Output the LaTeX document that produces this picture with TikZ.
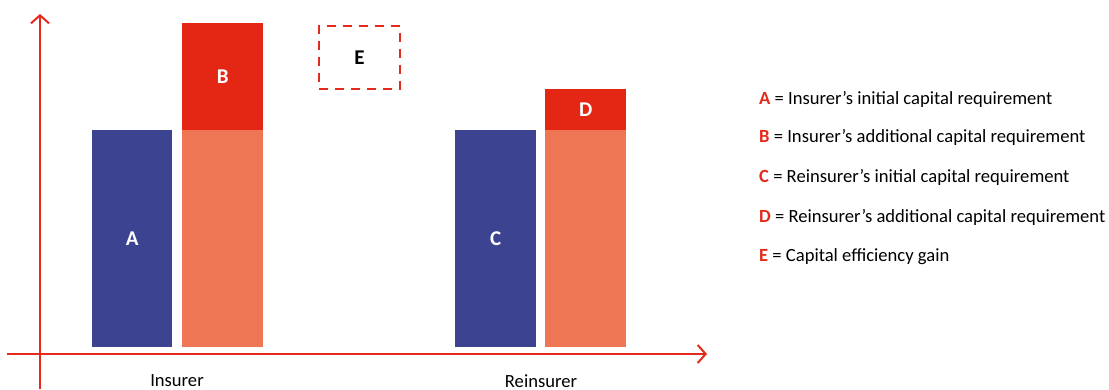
\documentclass[tikz,border=0pt]{standalone}
\usepackage{fontspec}
\setmainfont{Carlito}
\usetikzlibrary{arrows.meta}
\definecolor{navy}{HTML}{3C4492}
\definecolor{salmon}{HTML}{EF7655}
\definecolor{redbar}{HTML}{E42615}
\definecolor{axisred}{HTML}{E52A1C}
\tikzset{
  bar/.style={inner sep=0pt, anchor=north west, text=white, font=\fontsize{21}{24}\selectfont\bfseries},
  axis/.style={draw=axisred, line width=2pt, -{Straight Barb[length=8pt,width=18pt,line width=2pt]}},
  legend/.style={anchor=west, inner sep=0pt, font=\fontsize{18.6}{22}\selectfont},
  cat/.style={inner sep=0pt, font=\fontsize{18.6}{22}\selectfont},
  gainbox/.style={draw=axisred, line width=2pt, dash pattern=on 9pt off 7pt, inner sep=0pt, anchor=north west, font=\fontsize{21}{24}\selectfont\bfseries},
}
\newcommand{\lk}[1]{\textcolor{axisred}{\textbf{#1}}}
\begin{document}
\begin{tikzpicture}[x=1pt,y=-1pt]
\useasboundingbox (0,0) rectangle (1109,390);
% bars
\node[bar, fill=navy, minimum width=80pt, minimum height=217pt] (A) at (92,130) {A};
\node[bar, fill=salmon, minimum width=81pt, minimum height=217pt] (Bbase) at (182,130) {};
\node[bar, fill=redbar, minimum width=81pt, minimum height=107pt] (B) at (182,23) {B};
\node[bar, fill=navy, minimum width=81pt, minimum height=217pt] (C) at (455,130) {C};
\node[bar, fill=salmon, minimum width=81pt, minimum height=217pt] (Dbase) at (545,130) {};
\node[bar, fill=redbar, minimum width=81pt, minimum height=41pt] (D) at (545,89) {D};
\node[gainbox, minimum width=81pt, minimum height=63pt] (E) at (318,25) {E};
% axes
\coordinate (yb) at (40,389);
\coordinate (yt) at (40,14);
\coordinate (xl) at (7,354);
\coordinate (xr) at (707,354);
\draw[axis] (yb) -- (yt);
\draw[axis] (xl) -- (xr);
% categories
\node[cat] (ins) at (177,381) {Insurer};
\node[cat] (reins) at (541,381) {Reinsurer};
% legend
\node[legend] (la) at (759,99) {\lk{A} = Insurer’s initial capital requirement};
\node[legend] (lb) at (759,137) {\lk{B} = Insurer’s additional capital requirement};
\node[legend] (lc) at (759,177) {\lk{C} = Reinsurer’s initial capital requirement};
\node[legend] (ld) at (759,217) {\lk{D} = Reinsurer’s additional capital requirement};
\node[legend] (le) at (759,257) {\lk{E} = Capital efficiency gain};
\end{tikzpicture}
\end{document}
